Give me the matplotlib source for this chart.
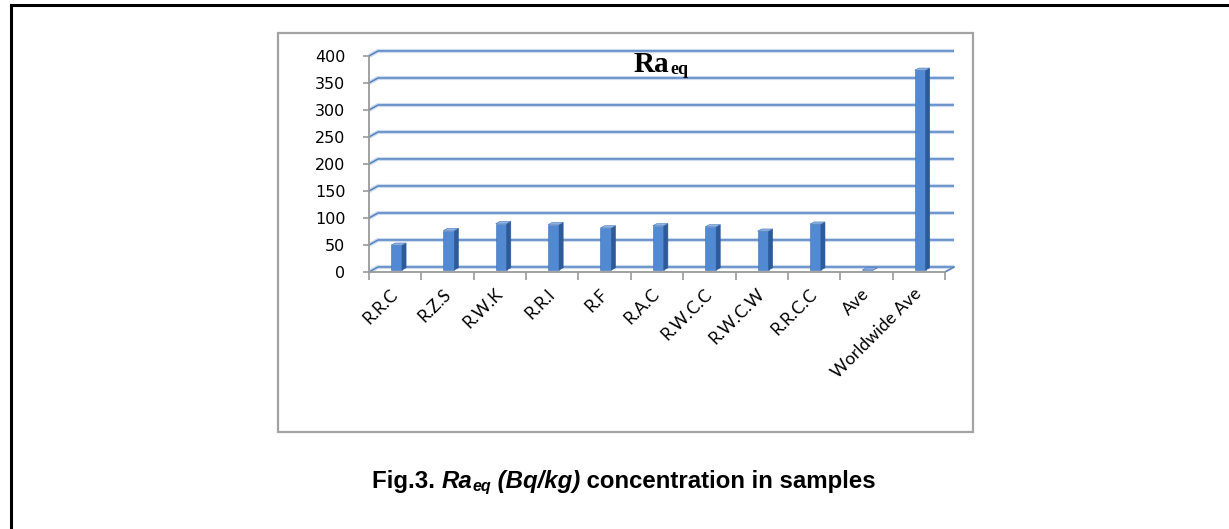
import numpy as np
import matplotlib.pyplot as plt
from matplotlib.patches import Polygon, Rectangle
from matplotlib.lines import Line2D

# Ra_eq (Bq/kg) per sample site
samples = ["R.R.C", "R.Z.S", "R.W.K", "R.R.I", "R.F", "R.A.C",
           "R.W.C.C", "R.W.C.W", "R.R.C.C", "Ave", "Worldwide Ave"]
ra_eq = [46, 73, 86, 84, 78, 82, 80, 72, 85, 0, 370]
y_ticks = [0, 50, 100, 150, 200, 250, 300, 350, 400]

W, H = 1229, 529
fig = plt.figure(figsize=(W / 100, H / 100), dpi=100)
renderer = fig.canvas.get_renderer()


def fx(x):
    return x / W


def fy(y):
    return 1 - y / H


# page frame (left and top rules)
fig.add_artist(Line2D([fx(11), fx(11)], [fy(5), fy(529)], color="black", lw=2.2))
fig.add_artist(Line2D([fx(11), fx(1229)], [fy(5), fy(5)], color="black", lw=2.2))

# chart area border
fig.add_artist(Rectangle((fx(278), fy(432)), fx(973) - fx(278), fy(33) - fy(432),
                         fill=False, edgecolor="#a3a3a3", lw=1.6))

ax = fig.add_axes([fx(369), fy(272), fx(945) - fx(369), fy(56) - fy(272)])
n = len(samples)
ax.set_xlim(0, n)
ax.set_ylim(0, 400)
ax.patch.set_visible(False)

# depth of the 3-D back wall, in data units
DX, DY = 0.172, 9.3
grid_kw = dict(clip_on=False, solid_capstyle="butt")
for v in y_ticks:
    xs = [0, DX, n + DX]
    ys = [v, v + DY, v + DY]
    ax.plot(xs, ys, color="#cddbee", lw=3.0, zorder=1, **grid_kw)
    ax.plot(xs, ys, color="#5583c2", lw=1.1, zorder=1.1, **grid_kw)
# floor edge on the right
ax.plot([n, n + DX], [0, DY], color="#a8a8a8", lw=1.2, clip_on=False, zorder=1.1)
ax.plot([n, n + DX], [0, DY], color="#5583c2", lw=1.0, clip_on=False, zorder=1.2)

# 3-D bars: front face, side face, top face
x = np.arange(n)
off, bw = 0.42, 0.21
sdx, sdy = 0.078, 4.0
base = 3.7
ax.bar(x + off, ra_eq, width=bw, bottom=base, align="edge",
       color="#5289d3", edgecolor="#3f6fb0", lw=0.4, zorder=3)
for xi, v in zip(x, ra_eq):
    x0, x1 = xi + off, xi + off + bw
    top = base + v
    side = Polygon([(x1, base), (x1 + sdx, base + sdy), (x1 + sdx, top + sdy), (x1, top)],
                   closed=True, facecolor="#2d5a98", edgecolor="#2d5a98", lw=0.4, zorder=3)
    cap = Polygon([(x0, top), (x0 + sdx, top + sdy), (x1 + sdx, top + sdy), (x1, top)],
                  closed=True, facecolor="#8fb4e6", edgecolor="#4a78b8", lw=0.4, zorder=4)
    ax.add_patch(side)
    ax.add_patch(cap)

for s in ["top", "right"]:
    ax.spines[s].set_visible(False)
for s in ["left", "bottom"]:
    ax.spines[s].set_color("#9a9a9a")
    ax.spines[s].set_linewidth(1.3)
    ax.spines[s].set_zorder(2)

ax.set_yticks(y_ticks)
ax.set_yticklabels([str(t) for t in y_ticks], family="DejaVu Sans", fontsize=11.5)
ax.tick_params(axis="y", length=4, width=1.2, color="#9a9a9a", pad=13)

ax.set_xticks(np.arange(n + 1), minor=True)
ax.tick_params(axis="x", which="minor", length=5.5, width=1.2, color="#9a9a9a")
ax.set_xticks(x + 0.4)
ax.set_xticklabels(samples, rotation=45, ha="right", rotation_mode="anchor",
                   family="Lato", fontsize=12.5)
ax.tick_params(axis="x", which="major", length=0, pad=10)

# chart title: Ra with subscript eq
t = fig.text(fx(634), fy(72), "Ra", ha="left", va="baseline",
             family="Liberation Serif", weight="bold", fontsize=21)
fig.text(fx(634 + t.get_window_extent(renderer).width + 1), fy(74), "eq",
         ha="left", va="baseline", family="Liberation Serif", weight="bold",
         fontsize=13)

# figure caption built from runs of different styles
parts = [("Fig.3. ", "normal", 17.3, 0),
         ("Ra", "italic", 17.3, 0),
         ("eq", "italic", 11.5, -3),
         (" (Bq/kg)", "italic", 17.3, 0),
         (" concentration in samples", "normal", 17.3, 0)]
xpos = 372
for txt, style, size, dy in parts:
    t = fig.text(fx(xpos), fy(488 - dy), txt, ha="left", va="baseline",
                 family="Liberation Sans", weight="bold", style=style, fontsize=size)
    xpos += t.get_window_extent(renderer).width

fig.savefig("out.png", dpi=100)
